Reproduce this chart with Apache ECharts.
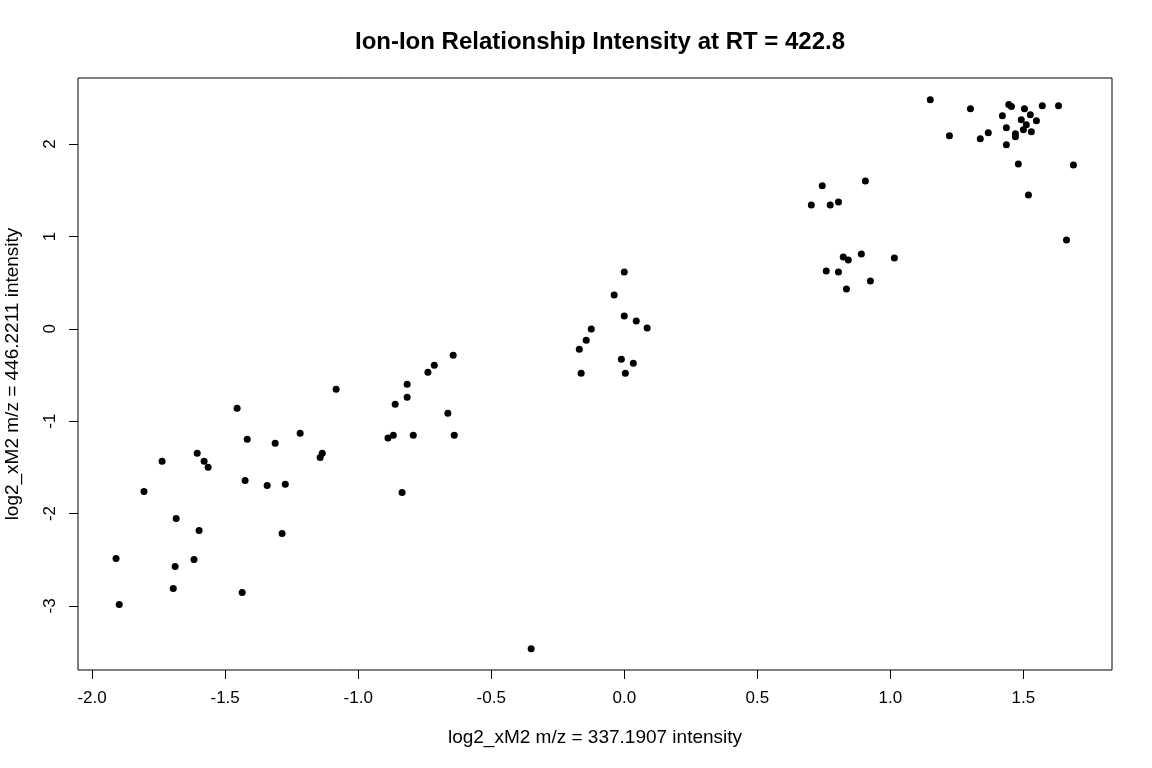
<!DOCTYPE html>
<html lang="en" style="height: 100%">
<head>
    <meta charset="utf-8">
    <script type="text/javascript" src="https://cdn.jsdelivr.net/npm/echarts@6.0.0/dist/echarts.min.js"></script>
</head>
<body style="height: 100%; margin: 0; background: #fff">
<div id="container" style="width: 1152px; height: 768px"></div>
<script type="text/javascript">
    // log2 intensities
    var xVals = [
        -0.643, -0.714, -0.738, -0.816, -1.083, -0.816, -0.861, -1.455, -0.663, -1.218,
        -0.888, -0.868, -0.793, -0.639, -1.417, -1.312, -1.605, -1.143, -1.135, -1.737,
        -1.579, -1.564, -1.425, -1.342, -1.274, -1.805, -0.835, -1.684, -1.598, -1.286,
        -1.910, -1.617, -1.688, -1.695, -1.436, -1.898,
        0.000, -0.038, 0.000, 0.045, 0.086, -0.124, -0.143, -0.169, -0.011, 0.034,
        -0.162, 0.004, -0.350,
        0.744, 0.906, 0.703, 0.774, 0.805, 0.823, 0.842, 0.891, 1.015, 0.759,
        0.805, 0.925, 0.835, 1.481, 1.519,
        1.150, 1.301, 1.445, 1.455, 1.504, 1.571, 1.632, 1.421, 1.526, 1.492,
        1.549, 1.511, 1.436, 1.500, 1.530, 1.222, 1.368, 1.338, 1.470, 1.470,
        1.436, 1.688, 1.662
    ];
    var yVals = [
        -0.285, -0.394, -0.470, -0.600, -0.654, -0.741, -0.817, -0.860, -0.914, -1.131,
        -1.182, -1.153, -1.153, -1.153, -1.196, -1.240, -1.348, -1.392, -1.348, -1.435,
        -1.435, -1.500, -1.641, -1.695, -1.684, -1.760, -1.771, -2.053, -2.183, -2.216,
        -2.487, -2.498, -2.574, -2.812, -2.856, -2.986,
        0.615, 0.366, 0.138, 0.084, 0.008, -0.003, -0.123, -0.220, -0.329, -0.372,
        -0.480, -0.480, -3.463,
        1.548, 1.602, 1.342, 1.342, 1.374, 0.778, 0.745, 0.810, 0.767, 0.626,
        0.615, 0.517, 0.431, 1.786, 1.450,
        2.480, 2.383, 2.430, 2.408, 2.383, 2.415, 2.415, 2.307, 2.318, 2.264,
        2.253, 2.209, 2.177, 2.155, 2.133, 2.090, 2.123, 2.057, 2.112, 2.079,
        1.992, 1.775, 0.962
    ];
    var xTicks = [-2.0, -1.5, -1.0, -0.5, 0.0, 0.5, 1.0, 1.5];
    var yTicks = [-3, -2, -1, 0, 1, 2];

    var points = [];
    for (var i = 0; i < xVals.length; i++) {
        points.push([xVals[i], yVals[i]]);
    }

    var myChart = echarts.init(document.getElementById('container'), null, {renderer: 'canvas'});
    var font = 'Liberation Sans, Arial, sans-serif';

    var option = {
        backgroundColor: '#fff',
        animation: false,
        title: {
            text: 'Ion-Ion Relationship Intensity at RT = 422.8',
            left: 595,
            top: 25,
            textAlign: 'center',
            textStyle: {fontFamily: font, fontSize: 24, fontWeight: 'bold', color: '#000'}
        },
        grid: {
            left: 78, right: 40, top: 78, bottom: 98,
            containLabel: false,
            outerBoundsMode: 'none',
            show: true, borderColor: '#000', borderWidth: 1
        },
        xAxis: {
            type: 'value',
            min: -2.053, max: 1.833,
            name: 'log2_xM2 m/z = 337.1907 intensity',
            nameLocation: 'middle',
            nameGap: 58,
            nameTextStyle: {fontFamily: font, fontSize: 19, color: '#000'},
            splitLine: {show: false},
            axisLine: {show: false, onZero: false},
            axisTick: {show: true, inside: false, length: 9, customValues: xTicks, lineStyle: {color: '#000'}},
            axisLabel: {
                customValues: xTicks, margin: 20, color: '#000', fontFamily: font, fontSize: 17,
                formatter: function (v) { return v.toFixed(1); }
            }
        },
        yAxis: {
            type: 'value',
            min: -3.694, max: 2.716,
            name: 'log2_xM2 m/z = 446.2211 intensity',
            nameLocation: 'middle',
            nameGap: 56,
            nameTextStyle: {fontFamily: font, fontSize: 19, color: '#000'},
            splitLine: {show: false},
            axisLine: {show: false, onZero: false},
            axisTick: {show: true, inside: false, length: 9, customValues: yTicks, lineStyle: {color: '#000'}},
            axisLabel: {
                customValues: yTicks, rotate: 90, margin: 19, color: '#000', fontFamily: font, fontSize: 17
            }
        },
        series: [{
            type: 'scatter',
            data: points,
            symbol: 'circle',
            symbolSize: 7,
            itemStyle: {color: '#000', opacity: 1}
        }]
    };

    myChart.setOption(option);
</script>
</body>
</html>
